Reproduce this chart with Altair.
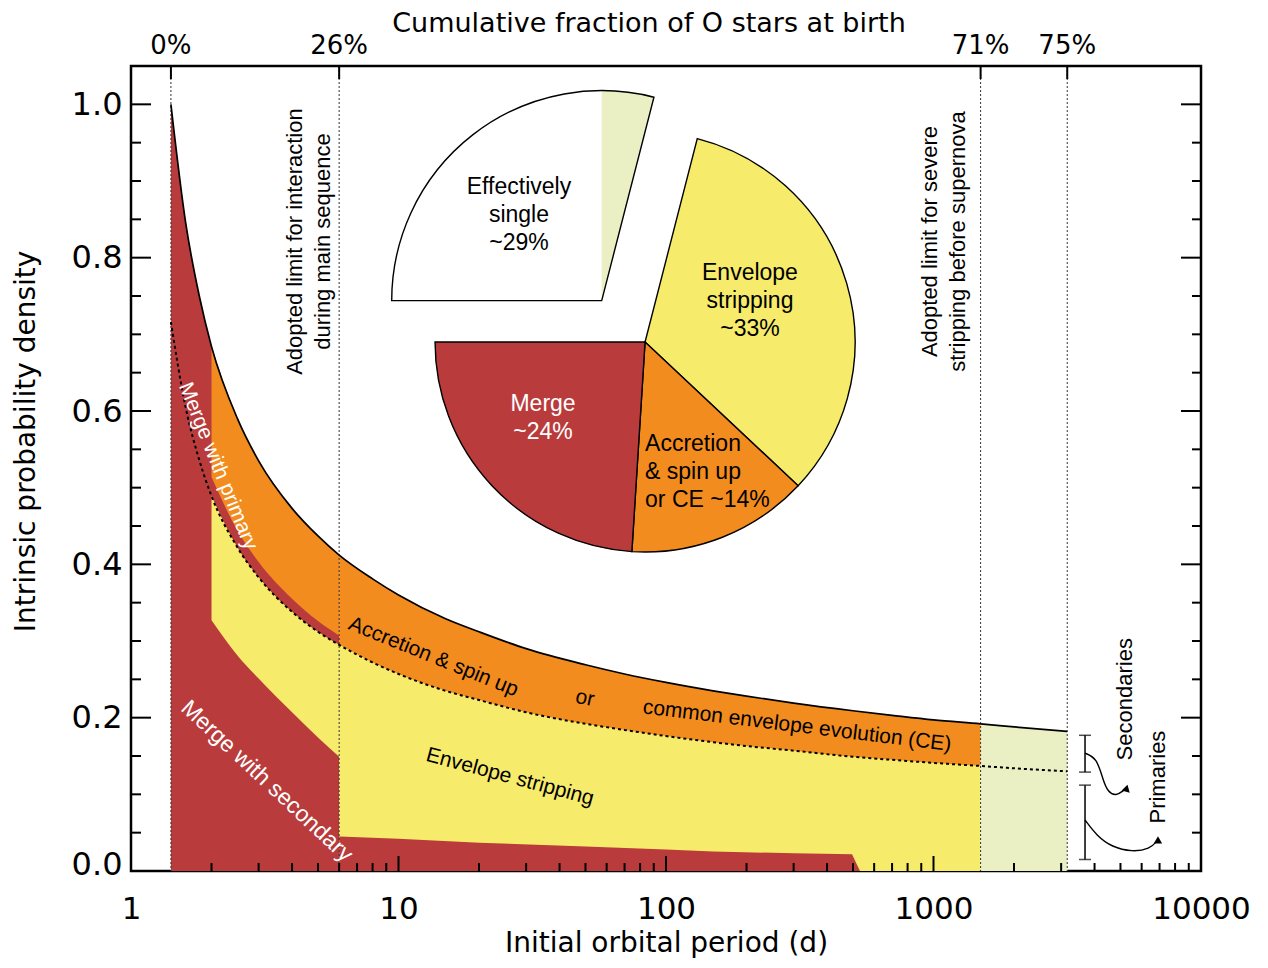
import math
import altair as alt
import pandas as pd

# ---------------- values ----------------
# orbital periods (d) where the curves were read
period = [1.41, 1.6, 1.8, 2.0, 2.5, 3, 4, 5, 6, 8, 10, 15, 20, 30, 50, 70,
          100, 150, 200, 300, 500, 700, 1000, 1500, 2000, 3162]
# solid curve: all stars (primaries + secondaries)
all_stars = [1.000, 0.846, 0.750, 0.684, 0.590, 0.535, 0.473, 0.437, 0.412,
             0.381, 0.360, 0.329, 0.312, 0.290, 0.269, 0.257, 0.246, 0.235,
             0.228, 0.219, 0.209, 0.203, 0.197, 0.192, 0.188, 0.182]
# dotted curve: primaries only
primaries = [0.716, 0.605, 0.536, 0.489, 0.422, 0.383, 0.338, 0.312, 0.295,
             0.272, 0.257, 0.235, 0.223, 0.207, 0.192, 0.184, 0.176, 0.168,
             0.163, 0.157, 0.149, 0.145, 0.141, 0.137, 0.134, 0.130]

# short-period band (2-6 d)
band_period = [2.0, 2.5, 3, 4, 5, 6]
merge_primary_top = [0.514, 0.444, 0.403, 0.355, 0.326, 0.307]
merge_secondary_top_short = [0.327, 0.281, 0.251, 0.207, 0.174, 0.149]

# merge with secondary beyond 6 d
merge_period = [6, 10, 20, 50, 100, 150, 300, 496, 531]
merge_secondary_top = [0.045, 0.042, 0.037, 0.032, 0.028, 0.0255, 0.023, 0.022, 0.0]

# adopted limits and cumulative fractions (top axis)
limit_period = [1.41, 6, 1500, 3162]
limit_fraction = ["0%", "26%", "71%", "75%"]

# pie chart
pie_slices = ["Effectively single", "Effectively single (wide)", "Envelope stripping",
              "Accretion & spin up or CE", "Merge"]
pie_percent = [25, 4, 33, 14, 24]
pie_part = ["single", "single", "binary", "binary", "binary"]
pie_center_P = {"binary": 83.5, "single": 57.5}
pie_center_v = {"binary": 0.690, "single": 0.744}

# axis ticks
x_major = [1, 10, 100, 1000, 10000]
x_minor = [2, 3, 4, 5, 6, 7, 8, 9, 20, 30, 40, 50, 60, 70, 80, 90,
           200, 300, 400, 500, 600, 700, 800, 900,
           2000, 3000, 4000, 5000, 6000, 7000, 8000, 9000]
y_major = [0.0, 0.2, 0.4, 0.6, 0.8, 1.0]
y_minor = [0.05, 0.1, 0.15, 0.25, 0.3, 0.35, 0.45, 0.5, 0.55, 0.65, 0.7, 0.75,
           0.85, 0.9, 0.95]

# secondaries / primaries brackets at the right
bracket_P = 3685
sec_range = [0.129, 0.177]
prim_range = [0.015, 0.112]
sec_arrow_P = [3685, 4085, 4302, 4490, 4811, 5153]
sec_arrow_v = [0.1537, 0.1472, 0.1186, 0.1029, 0.0977, 0.1055]
prim_arrow_P = [3685, 4085, 4646, 5521, 6442, 6846]
prim_arrow_v = [0.0665, 0.0456, 0.0313, 0.0248, 0.0287, 0.0391]
sec_head = (5270, 0.108)
prim_head = (6905, 0.0405)

# ---------------- styling / layout ----------------
W, H = 1070, 805
FONT_AX = "DejaVu Sans"
FONT_TX = "Liberation Sans"
RED = "#b93b3c"
ORANGE = "#f38c1f"
YELLOW = "#f6eb6b"
PALE = "#ebefc4"

xs = alt.Scale(type="log", domain=[1, 10000], nice=False)
ys = alt.Scale(domain=[0, 1.05], nice=False, zero=False)


def px(field, axis=alt.Undefined):
    return alt.X(f"{field}:Q", scale=xs, axis=axis)


def py(field, axis=alt.Undefined):
    return alt.Y(f"{field}:Q", scale=ys, axis=axis, stack=None)


curve = pd.DataFrame({"P": period, "T": all_stars, "D": primaries})
band = pd.DataFrame({"P": band_period, "O": merge_primary_top,
                     "L": merge_secondary_top_short}).merge(curve, on="P")
merge_df = pd.DataFrame({"P": merge_period, "v": merge_secondary_top})

x_axis = alt.Axis(values=x_major, format="d", labelFlush=False, ticks=False, domain=False,
                  grid=False, labelPadding=23, labelFont=FONT_AX, labelFontSize=31,
                  labelColor="black", title="Initial orbital period (d)", titleFont=FONT_AX,
                  titleFontSize=28, titleFontWeight="normal", titleColor="black",
                  titlePadding=5)
y_axis = alt.Axis(values=y_major, format=".1f", ticks=False, domain=False, grid=False,
                  labelPadding=9, labelFont=FONT_AX, labelFontSize=32, labelColor="black",
                  labelFlush=True, labelFlushOffset=10,
                  title="Intrinsic probability density", titleFont=FONT_AX, titleFontSize=28,
                  titleFontWeight="normal", titleColor="black", titleX=-105, titleY=375,
                  titleAngle=270, titleAlign="center", titleBaseline="middle")

layers = []

# ---- filled regions ----
layers.append(alt.Chart(curve).transform_filter(alt.datum.P <= 6)
              .mark_area(color=RED, interpolate="monotone")
              .encode(x=px("P", x_axis), y=py("T", y_axis), y2=alt.datum(0)))
layers.append(alt.Chart(band).mark_area(color=ORANGE, interpolate="monotone")
              .encode(x=px("P"), y=py("T"), y2="O:Q"))
layers.append(alt.Chart(band).mark_area(color=YELLOW, interpolate="monotone")
              .encode(x=px("P"), y=py("D"), y2="L:Q"))
main = alt.Chart(curve).transform_filter((alt.datum.P >= 6) & (alt.datum.P <= 1500))
layers.append(main.mark_area(color=YELLOW, interpolate="monotone")
              .encode(x=px("P"), y=py("D"), y2=alt.datum(0)))
layers.append(main.mark_area(color=ORANGE, interpolate="monotone")
              .encode(x=px("P"), y=py("T"), y2="D:Q"))
layers.append(alt.Chart(merge_df).mark_area(color=RED, interpolate="linear")
              .encode(x=px("P"), y=py("v"), y2=alt.datum(0)))
layers.append(alt.Chart(curve).transform_filter(alt.datum.P >= 1500)
              .mark_area(color=PALE, interpolate="monotone")
              .encode(x=px("P"), y=py("T"), y2=alt.datum(0)))

# ---- limit lines ----
limits = pd.DataFrame({"P": limit_period, "lab": limit_fraction})
layers.append(alt.Chart(limits).mark_rule(color="#333333", strokeWidth=1, strokeDash=[2, 2])
              .encode(x=px("P"), y=alt.value(0), y2=alt.value(H)))

# ---- curves ----
layers.append(alt.Chart(curve).mark_line(color="black", strokeWidth=1.7, interpolate="monotone")
              .encode(x=px("P"), y=py("T")))
layers.append(alt.Chart(curve).mark_line(color="black", strokeWidth=2, strokeDash=[3, 3],
                                         interpolate="monotone")
              .encode(x=px("P"), y=py("D")))

# ---- inward ticks ----
xmaj = pd.DataFrame({"P": x_major})
xmin = pd.DataFrame({"P": x_minor})
ymaj = pd.DataFrame({"v": y_major})
ymin = pd.DataFrame({"v": y_minor})
tick = dict(color="black", strokeWidth=2)
layers += [
    alt.Chart(xmaj).mark_rule(**tick).encode(x=px("P"), y=alt.value(H), y2=alt.value(H - 15)),
    alt.Chart(xmin).mark_rule(**tick).encode(x=px("P"), y=alt.value(H), y2=alt.value(H - 8)),
    alt.Chart(limits).mark_rule(**tick).encode(x=px("P"), y=alt.value(0), y2=alt.value(13)),
    alt.Chart(ymaj).mark_rule(**tick).encode(y=py("v"), x=alt.value(0), x2=alt.value(20)),
    alt.Chart(ymin).mark_rule(**tick).encode(y=py("v"), x=alt.value(0), x2=alt.value(10)),
    alt.Chart(ymaj).mark_rule(**tick).encode(y=py("v"), x=alt.value(W), x2=alt.value(W - 20)),
    alt.Chart(ymin).mark_rule(**tick).encode(y=py("v"), x=alt.value(W), x2=alt.value(W - 9)),
]

# ---- pie chart ----
pie = pd.DataFrame({"slice": pie_slices, "pct": pie_percent, "part": pie_part})
pie["end"] = pie["pct"].cumsum()
pie["start"] = pie["end"] - pie["pct"]
pie["cx"] = pie["part"].map(pie_center_P)
pie["cy"] = pie["part"].map(pie_center_v)

theta_scale = alt.Scale(domain=[0, 100], range=[1.5 * math.pi, 3.5 * math.pi])
pie_color = alt.Color("slice:N", legend=None,
                      scale=alt.Scale(domain=pie_slices,
                                      range=["white", PALE, YELLOW, ORANGE, RED]))
pie_base = alt.Chart(pie)
layers.append(pie_base.transform_filter(alt.datum.part == "single")
              .mark_arc(radius=210, strokeWidth=0)
              .encode(x=px("cx"), y=py("cy"),
                      theta=alt.Theta("start:Q", scale=theta_scale, stack=None),
                      theta2="end:Q", color=pie_color))
layers.append(pie_base.transform_filter(alt.datum.part == "single")
              .transform_aggregate(start="min(start)", end="max(end)",
                                   cx="mean(cx)", cy="mean(cy)")
              .mark_arc(radius=210, filled=False, color="black", strokeWidth=1.4)
              .encode(x=px("cx"), y=py("cy"),
                      theta=alt.Theta("start:Q", scale=theta_scale, stack=None),
                      theta2="end:Q"))
layers.append(pie_base.transform_filter(alt.datum.part == "binary")
              .mark_arc(radius=210, stroke="black", strokeWidth=1.4)
              .encode(x=px("cx"), y=py("cy"),
                      theta=alt.Theta("start:Q", scale=theta_scale, stack=None),
                      theta2="end:Q", color=pie_color))


def text_layer(txt, P, v, angle=0, color="black", size=21, align="center",
               font=FONT_TX, line_h=28):
    n = txt.count("\n") + 1
    df = pd.DataFrame({"P": [P], "v": [v], "t": [txt]})
    return (alt.Chart(df)
            .mark_text(angle=angle, color=color, fontSize=size, font=font, align=align,
                       baseline="middle", lineBreak="\n", lineHeight=line_h,
                       dy=-(n - 1) * line_h / 2)
            .encode(x=px("P"), y=py("v"), text="t:N"))


# pie labels
layers += [
    text_layer("Effectively\nsingle\n~29%", 28.2, 0.856, size=23),
    text_layer("Envelope\nstripping\n~33%", 206, 0.743, size=23),
    text_layer("Merge\n~24%", 34.7, 0.5915, color="white", size=23),
    text_layer("Accretion\n& spin up\nor CE ~14%", 83.5, 0.521, size=23, align="left"),
]

# region annotations
layers += [
    text_layer("Merge with primary", 2.11, 0.528, angle=68, color="white", size=21),
    text_layer("Merge with secondary", 3.22, 0.117, angle=43, color="white", size=23),
    text_layer("Accretion & spin up", 13.5, 0.279, angle=22, size=21),
    text_layer("or", 49.8, 0.225, angle=12, size=21),
    text_layer("common envelope evolution (CE)", 309, 0.189, angle=7, size=21),
    text_layer("Envelope stripping", 26.1, 0.1225, angle=15, size=21),
    text_layer("Adopted limit for interaction\nduring main sequence", 4.63, 0.821,
               angle=270, size=22),
    text_layer("Adopted limit for severe\nstripping before supernova", 1094, 0.821,
               angle=270, size=22),
    text_layer("Secondaries", 5200, 0.224, angle=270, size=22),
    text_layer("Primaries", 6905, 0.1225, angle=270, size=22),
]

# brackets and arrows
brk = pd.DataFrame({"P": [bracket_P, bracket_P],
                    "lo": [sec_range[0], prim_range[0]],
                    "hi": [sec_range[1], prim_range[1]]})
caps = pd.DataFrame({"P": [bracket_P] * 4, "v": sec_range + prim_range})
layers.append(alt.Chart(brk).mark_rule(color="black", strokeWidth=1.5)
              .encode(x=px("P"), y=py("lo"), y2="hi:Q"))
layers.append(alt.Chart(caps).mark_tick(orient="horizontal", color="black", size=12,
                                        thickness=1.5)
              .encode(x=px("P"), y=py("v")))
for aP, av in [(sec_arrow_P, sec_arrow_v), (prim_arrow_P, prim_arrow_v)]:
    adf = pd.DataFrame({"P": aP, "v": av, "i": list(range(len(aP)))})
    layers.append(alt.Chart(adf).mark_line(color="black", strokeWidth=1.4, interpolate="basis")
                  .encode(x=px("P"), y=py("v"), order="i:Q"))
for (hP, hv), ang in [(sec_head, 15), (prim_head, 0)]:
    hdf = pd.DataFrame({"P": [hP], "v": [hv]})
    layers.append(alt.Chart(hdf).mark_point(shape="triangle-up", filled=True, color="black",
                                            size=70, opacity=1, angle=ang)
                  .encode(x=px("P"), y=py("v")))

# top "axis": cumulative fractions and its title
layers.append(alt.Chart(limits).mark_text(font=FONT_AX, fontSize=26, color="black",
                                          baseline="middle")
              .encode(x=px("P"), y=alt.value(-20), text="lab:N"))
layers.append(alt.Chart(pd.DataFrame({"t": ["Cumulative fraction of O stars at birth"]}))
              .mark_text(font=FONT_AX, fontSize=27, color="black", baseline="middle")
              .encode(x=alt.value(518), y=alt.value(-42), text="t:N"))

chart = (alt.layer(*layers)
         .properties(width=W, height=H,
                     autosize=alt.AutoSizeParams(type="none"),
                     padding={"left": 123, "top": 58, "right": 59, "bottom": 89},
                     background="white")
         .configure_axis(grid=False, ticks=False, domain=False)
         .configure_view(stroke="black", strokeWidth=2.5))

chart.save("out.html", embed_options={"renderer": "svg", "actions": False})
